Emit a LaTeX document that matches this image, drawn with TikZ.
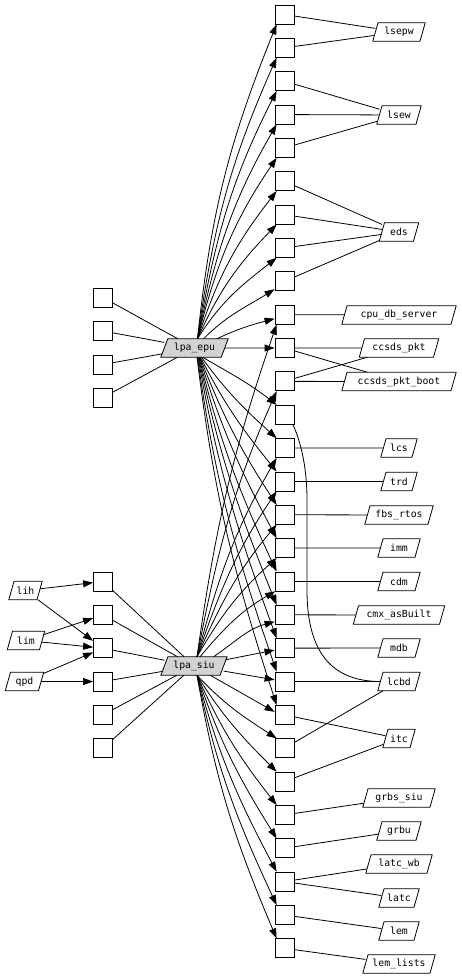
\documentclass[tikz,border=0pt]{standalone}
\usepackage{fontspec}
\newfontfamily\lblfont{DejaVu Sans Mono}
\usetikzlibrary{arrows.meta}
\pgfdeclarelayer{edgelayer}
\pgfdeclarelayer{shapelayer}
\pgfsetlayers{edgelayer,shapelayer,main}
\definecolor{lpagray}{HTML}{D3D3D3}
\begin{document}
\begin{tikzpicture}[x=1pt,y=1pt,
  box/.style={draw, fill=white, rectangle, minimum size=19pt, inner sep=0pt, line width=0.8pt},
  lab/.style={rectangle, minimum height=18pt, inner sep=0pt, font=\lblfont\fontsize{9.8pt}{10pt}\selectfont},
  link/.style={line width=0.8pt},
  arr/.style={line width=0.8pt, -{Triangle[length=10pt,width=7pt]}},
  para/.style={draw, line width=0.8pt, fill=white},
  grpara/.style={draw, line width=0.8pt, fill=lpagray},
]
\useasboundingbox (0,0) rectangle (461,-978);
% right column boxes
\foreach \i in {1,...,29} \node[box] (B\i) at (284.5,{-14.5-33.35*(\i-1)}) {};
% left boxes
\foreach \i/\yy in {1/297.5,2/331,3/364.5,4/397.5} \node[box] (T\i) at (103,-\yy) {};
\foreach \i in {1,...,6} \node[box] (S\i) at (103,{-581.5-33.35*(\i-1)}) {};
% labels right
\foreach \n/\tx/\yy/\w in {
  lsepw/lsepw/32/46.8,
  lsew/lsew/115/38.8,
  eds/eds/232/33.8,
  cpu/cpu\_db\_server/315/108.8,
  ccpkt/ccsds\_pkt/348/73.8,
  ccboot/ccsds\_pkt\_boot/381.5/108.8,
  lcs/lcs/448/30.8,
  trd/trd/481.5/30.8,
  fbs/fbs\_rtos/515/62.8,
  imm/imm/548/36.8,
  cdm/cdm/581.5/36.8,
  cmx/cmx\_asBuilt/615/85.8,
  mdb/mdb/648/36.8,
  lcbd/lcbd/681.5/36.8,
  itc/itc/738.5/26.8,
  grbs/grbs\_siu/798/66.8,
  grbu/grbu/831/38.8,
  latcwb/latc\_wb/864/60.8,
  latc/latc/898/34.8,
  lem/lem/931/34.8,
  lemlists/lem\_lists/964/66.8}
  \node[lab, minimum width={\w pt}] (\n) at (399,-\yy) {\tx};
% labels left
\node[lab, minimum width=27.8pt] (lih) at (25.5,-590.5) {lih};
\node[lab, minimum width=31.8pt] (lim) at (26,-640.5) {lim};
\node[lab, minimum width=32.8pt] (qpd) at (24.5,-681.5) {qpd};
\node[lab, minimum width=60pt] (epu) at (194.5,-348) {lpa\_epu};
\node[lab, minimum width=58.8pt] (siu) at (194,-666) {lpa\_siu};
% parallelogram outlines
\begin{pgfonlayer}{shapelayer}
\foreach \n in {lsepw,lsew,eds,cpu,ccpkt,ccboot,lcs,trd,fbs,imm,cdm,cmx,mdb,lcbd,itc,grbs,grbu,latcwb,latc,lem,lemlists,lih,lim,qpd}
  \draw[para] ([xshift=-2.6pt]\n.south west) -- ([xshift=-2.6pt]\n.south east) -- ([xshift=2.6pt]\n.north east) -- ([xshift=2.6pt]\n.north west) -- cycle;
\foreach \n in {epu,siu}
  \draw[grpara] ([xshift=-3.5pt]\n.south west) -- ([xshift=-3.5pt]\n.south east) -- ([xshift=3.5pt]\n.north east) -- ([xshift=3.5pt]\n.north west) -- cycle;
\end{pgfonlayer}
% edges
\begin{pgfonlayer}{edgelayer}
\draw[arr] (lih) -- (S1);
\draw[arr] (lih) -- (S3);
\draw[arr] (lim) -- (S2);
\draw[arr] (lim) -- (S3);
\draw[arr] (qpd) -- (S3);
\draw[arr] (qpd) -- (S4);
\foreach \i in {1,...,4} \draw[link] (T\i) -- (epu);
\foreach \i in {1,...,6} \draw[link] (S\i) -- (siu);
% lpa_epu upward
\foreach \k/\o/\a in {1/84/248,2/82/246,3/80/243,4/78/240,5/76/236,6/72/232,7/66/226,8/58/218}
  \draw[arr] ([xshift=3pt]epu.north) to[out=\o,in=\a] ([xshift=2pt]B\k.south west);
\draw[arr] ([xshift=9pt]epu.north) to[out=45,in=212] ([yshift=2pt]B9.south west);
\draw[arr] ([xshift=-8pt]epu.north east) to[out=25,in=195] ([yshift=-4pt]B10.west);
\draw[arr] (epu) -- (B11);
% lpa_epu downward
\foreach \k/\o/\a/\s in {13/-30/142/8,14/-54/138/7,15/-63/129/6,16/-69/123/5.5,17/-73/118/5,18/-76/115/4.5,19/-78/112/4,20/-80/110/3.5,21/-82/109/3,22/-83/108/2.5}
  \draw[arr] ([xshift=\s pt]epu.south) to[out=\o,in=\a] ([xshift=2pt]B\k.north west);
% lpa_siu upward
\foreach \k/\o/\a in {10/82/251,12/79/246,14/75/240,15/71/236,16/66/230,17/60/222}
  \draw[arr] ([xshift=3pt]siu.north) to[out=\o,in=\a] ([xshift=2pt]B\k.south west);
\draw[arr] ([xshift=6pt]siu.north) to[out=50,in=210] ([xshift=0.5pt]B18.south west);
\draw[arr] ([xshift=-10pt]siu.north east) to[out=35,in=195] ([yshift=3pt]B19.south west);
\draw[arr] (siu) -- (B20);
\draw[arr] (siu) -- (B21);
\draw[arr] (siu) -- ([yshift=3pt]B22.west);
% lpa_siu downward
\foreach \k/\o/\a in {23/-47/147,24/-58/135,25/-66/128,26/-71/122,27/-75/118,28/-78/115,29/-80/113}
  \draw[arr] ([xshift=3pt]siu.south) to[out=\o,in=\a] ([xshift=2pt]B\k.north west);
% boxes to labels
\foreach \b/\l in {1/lsepw,2/lsepw,3/lsew,4/lsew,5/lsew,6/eds,7/eds,8/eds,9/eds,10/cpu,11/ccpkt,11/ccboot,12/ccpkt,12/ccboot,14/lcs,15/trd,16/fbs,17/imm,18/cdm,19/cmx,20/mdb,21/lcbd,22/itc,23/lcbd,24/itc,25/grbs,26/grbu,27/latcwb,27/latc,28/lem,29/lemlists}
  \draw[link] (B\b) -- (\l);
\draw[link] ([xshift=-1.5pt]B13.south east) .. controls (300,-440) and (307,-465) .. (307,-500) -- (307,-590) .. controls (307,-650) and (330,-681.5) .. (lcbd.west);
\end{pgfonlayer}
\end{tikzpicture}
\end{document}
